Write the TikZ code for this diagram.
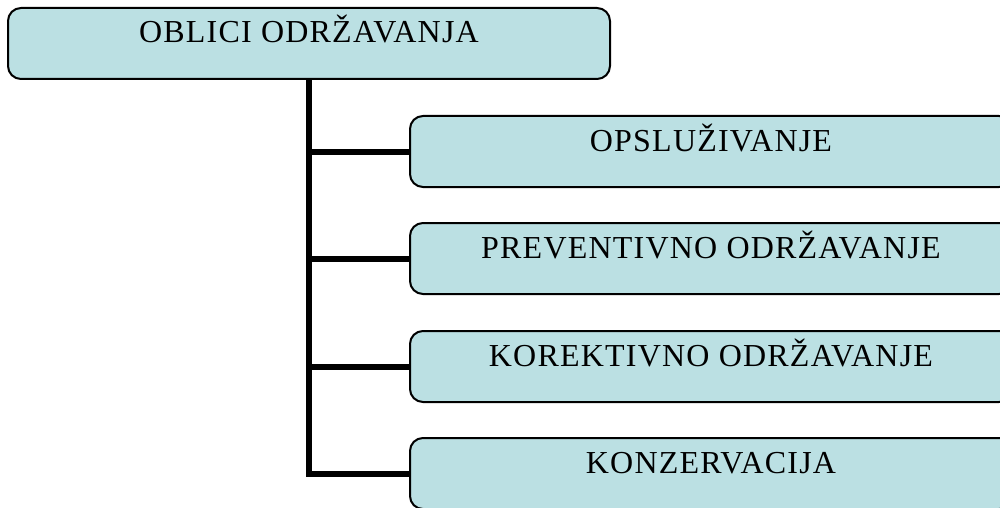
\documentclass[tikz,border=0pt]{standalone}
\usepackage{fontspec}
\setmainfont{Liberation Serif}
\newfontfamily\boxfont[LetterSpace=3.8]{Liberation Serif}
\definecolor{boxfill}{RGB}{187,224,227}
\begin{document}
\begin{tikzpicture}[x=1pt,y=-1pt,
  box/.style={draw=black, fill=boxfill, line width=2pt, rounded corners=13pt,
    minimum width=602pt, inner xsep=0pt, inner ysep=0pt,
    text height=35pt, text depth=36pt, font=\boxfont\fontsize{32}{38}\selectfont},
  conn/.style={draw=black, line width=6pt, line join=miter}]
\useasboundingbox (0,0) rectangle (1000,508);
\clip (0,0) rectangle (1000,508);
\fill[white] (0,0) rectangle (1000,508);
\node[box] (top) at (309,43.5) {OBLICI ODRŽAVANJA};
\node[box] (b1) at (711,151.5) {OPSLUŽIVANJE};
\node[box] (b2) at (711,258.5) {PREVENTIVNO ODRŽAVANJE};
\node[box] (b3) at (711,366.5) {KOREKTIVNO ODRŽAVANJE};
\node[box] (b4) at (711,473.5) {KONZERVACIJA};
\draw[conn] (top.south) |- (b4.west);
\draw[conn] (top.south |- b1.west) -- (b1.west);
\draw[conn] (top.south |- b2.west) -- (b2.west);
\draw[conn] (top.south |- b3.west) -- (b3.west);
\end{tikzpicture}
\end{document}
